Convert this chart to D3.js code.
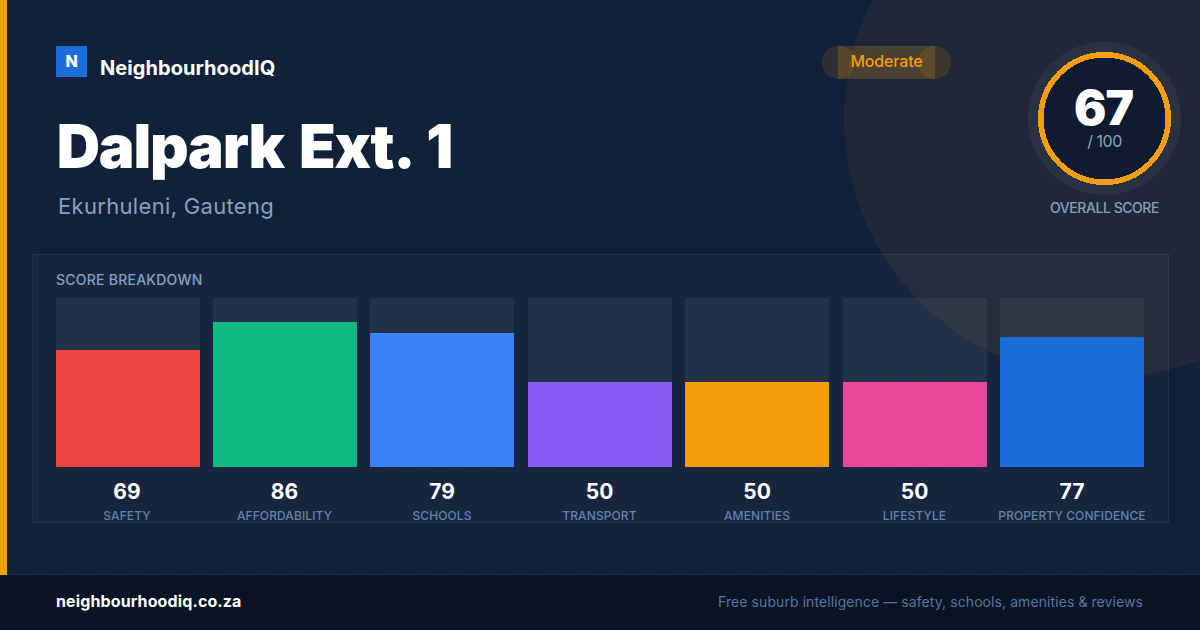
<!DOCTYPE html>
<html>
<head>
<meta charset="utf-8">
<script src="https://cdn.jsdelivr.net/npm/d3@7"></script>
<style>
  html, body { margin: 0; padding: 0; background: #12213a; }
  svg { display: block; }
  text { font-family: Inter, "Noto Sans", sans-serif; }
  circle.hard { shape-rendering: crispEdges; }
</style>
</head>
<body>
<div id="figure"></div>
<script>
var categories = ["SAFETY", "AFFORDABILITY", "SCHOOLS", "TRANSPORT", "AMENITIES", "LIFESTYLE", "PROPERTY CONFIDENCE"];
var scores = [69, 86, 79, 50, 50, 50, 77];
var barColors = ["#ef4444", "#10b981", "#3b82f6", "#8b5cf6", "#f59e0b", "#ec4899", "#1a6fdb"];
var overallScore = 67;

var width = 1200;
var height = 630;
var amber = "#f59e0b";
var mutedText = "#86a1c0";

var svg = d3.select("#figure").append("svg")
  .attr("width", width)
  .attr("height", height);

svg.append("rect")
  .attr("width", width)
  .attr("height", height)
  .attr("fill", "#12213a");

// faint dot grid behind everything
var dots = svg.append("g").attr("fill", "#ffffff").attr("fill-opacity", 0.03);
d3.range(24, width, 32).forEach(function(x) {
  d3.range(24, 575, 32).forEach(function(y) {
    dots.append("circle").attr("cx", x).attr("cy", y).attr("r", 1);
  });
});

svg.append("circle")
  .attr("class", "hard")
  .attr("cx", 1104).attr("cy", 118).attr("r", 260)
  .attr("fill", amber).attr("fill-opacity", 0.06);

svg.append("rect")
  .attr("width", 7).attr("height", 575)
  .attr("fill", amber);

// header
svg.append("rect")
  .attr("x", 56).attr("y", 46).attr("width", 31).attr("height", 31)
  .attr("fill", "#1a6fdb");
svg.append("text")
  .attr("x", 71.5).attr("y", 67)
  .attr("text-anchor", "middle")
  .attr("font-size", 16).attr("font-weight", 800).attr("fill", "#fff")
  .text("N");
svg.append("text")
  .attr("x", 100).attr("y", 75)
  .attr("font-size", 20).attr("font-weight", 700).attr("letter-spacing", 0.07).attr("fill", "#fff")
  .text("NeighbourhoodIQ");
svg.append("text")
  .attr("x", 56.7).attr("y", 168)
  .attr("font-size", 60).attr("font-weight", 900)
  .attr("letter-spacing", -1.2).attr("word-spacing", 4.5)
  .attr("fill", "#fff")
  .text("Dalpark Ext. 1");
svg.append("text")
  .attr("x", 58).attr("y", 214)
  .attr("font-size", 22).attr("letter-spacing", 0.32).attr("fill", mutedText)
  .text("Ekurhuleni, Gauteng");

// moderate pill: a bar and two overlapping end caps
var pill = svg.append("g").attr("fill", amber).attr("fill-opacity", 0.2);
pill.append("rect").attr("x", 838).attr("y", 46).attr("width", 97).attr("height", 33);
pill.append("circle").attr("class", "hard").attr("cx", 838.5).attr("cy", 62.5).attr("r", 16.5).attr("fill-opacity", 0.13);
pill.append("circle").attr("class", "hard").attr("cx", 934.5).attr("cy", 62.5).attr("r", 16.5).attr("fill-opacity", 0.13);
svg.append("text")
  .attr("x", 886.5).attr("y", 67)
  .attr("text-anchor", "middle")
  .attr("font-size", 16).attr("font-weight", 500).attr("letter-spacing", -0.15).attr("fill", amber)
  .text("Moderate");

// overall score ring
svg.append("circle")
  .attr("class", "hard")
  .attr("cx", 1104.5).attr("cy", 118.5).attr("r", 76.5)
  .attr("fill", "#ffffff").attr("fill-opacity", 0.05);
svg.append("circle")
  .attr("class", "hard")
  .attr("cx", 1104.5).attr("cy", 118.5).attr("r", 63.7)
  .attr("fill", "#0f1b2e")
  .attr("stroke", amber).attr("stroke-width", 5.6);
svg.append("text")
  .attr("x", 1103.5).attr("y", 125)
  .attr("text-anchor", "middle")
  .attr("font-size", 48).attr("font-weight", 900).attr("letter-spacing", -1).attr("fill", "#fff")
  .text(overallScore);
svg.append("text")
  .attr("x", 1104.5).attr("y", 147)
  .attr("text-anchor", "middle")
  .attr("font-size", 16).attr("letter-spacing", -0.5).attr("fill", "#8aa4c2")
  .text("/ 100");
svg.append("text")
  .attr("x", 1104.5).attr("y", 213)
  .attr("text-anchor", "middle")
  .attr("font-size", 14).attr("font-weight", 500).attr("letter-spacing", -0.45).attr("fill", mutedText)
  .text("OVERALL SCORE");

// breakdown panel
svg.append("rect")
  .attr("x", 32.5).attr("y", 254.5).attr("width", 1136).attr("height", 268)
  .attr("fill", "#ffffff").attr("fill-opacity", 0.025)
  .attr("stroke", "#ffffff").attr("stroke-opacity", 0.07);
svg.append("text")
  .attr("x", 56).attr("y", 285)
  .attr("font-size", 14).attr("font-weight", 500).attr("letter-spacing", 0.24).attr("fill", mutedText)
  .text("SCORE BREAKDOWN");

var x = d3.scaleBand()
  .domain(categories)
  .range([55.6, 1144])
  .paddingInner(0.08513);
var labelX = d3.scalePoint()
  .domain(categories)
  .range([127, 1072]);
var y = d3.scaleLinear()
  .domain([0, 100])
  .range([467, 298]);

var rows = categories.map(function(c, i) {
  return {name: c, score: scores[i], color: barColors[i]};
});

// bars land on whole pixels, as in the screenshot
function barLeft(d) { return Math.round(x(d.name)); }
function barHeight(d) { return Math.round(y(0) - y(d.score)); }

var cols = svg.append("g").selectAll("g").data(rows).enter().append("g");

cols.append("rect")
  .attr("x", barLeft)
  .attr("y", y(100))
  .attr("width", Math.round(x.bandwidth()))
  .attr("height", y(0) - y(100))
  .attr("fill", "#ffffff").attr("fill-opacity", 0.06);
cols.append("rect")
  .attr("x", barLeft)
  .attr("y", function(d) { return y(0) - barHeight(d); })
  .attr("width", Math.round(x.bandwidth()))
  .attr("height", barHeight)
  .attr("fill", function(d) { return d.color; });
cols.append("text")
  .attr("x", function(d) { return labelX(d.name); })
  .attr("y", 499)
  .attr("text-anchor", "middle")
  .attr("font-size", 21).attr("font-weight", 700).attr("fill", "#fff")
  .text(function(d) { return d.score; });
cols.append("text")
  .attr("x", function(d) { return labelX(d.name); })
  .attr("y", 520)
  .attr("text-anchor", "middle")
  .attr("font-size", 12).attr("font-weight", 500).attr("letter-spacing", 0.1).attr("fill", "#6283aa")
  .text(function(d) { return d.name; });

// footer
svg.append("rect")
  .attr("y", 575).attr("width", width).attr("height", 55)
  .attr("fill", "#0a1424");
svg.append("rect")
  .attr("y", 574).attr("width", width).attr("height", 1)
  .attr("fill", "#ffffff").attr("fill-opacity", 0.05);
svg.append("text")
  .attr("x", 56).attr("y", 607)
  .attr("font-size", 16).attr("font-weight", 700).attr("letter-spacing", 0.12).attr("fill", "#fff")
  .text("neighbourhoodiq.co.za");
svg.append("text")
  .attr("x", 1143).attr("y", 607)
  .attr("text-anchor", "end")
  .attr("font-size", 14).attr("letter-spacing", 0.08).attr("fill", "#5577a0")
  .text("Free suburb intelligence — safety, schools, amenities & reviews");
</script>
</body>
</html>
